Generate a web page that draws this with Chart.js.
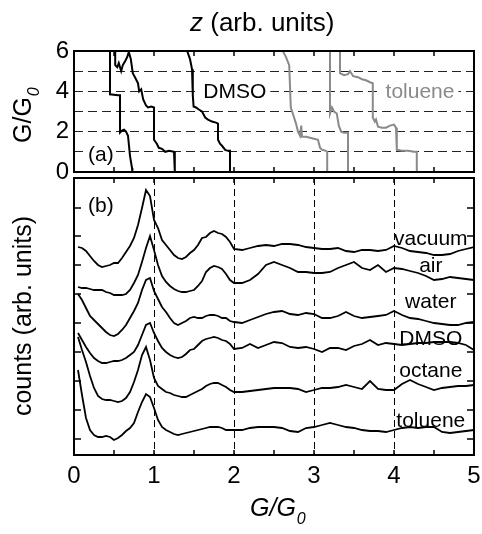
<!DOCTYPE html>
<html>
<head>
<meta charset="utf-8">
<script src="https://cdn.jsdelivr.net/npm/chart.js@4/dist/chart.umd.min.js"></script>
<style>
	body { margin: 0; background: #fff; }
	#wrap { position: relative; width: 482px; height: 534px; }
	canvas { position: absolute; left: 0; }
	#traces { top: 0; }
	#hist { top: 176px; }
</style>
</head>
<body>
<div id="wrap">
	<canvas id="traces" width="482" height="200" style="width:482px;height:200px"></canvas>
	<canvas id="hist" width="482" height="358" style="width:482px;height:358px"></canvas>
</div>
<script>
// panel (a): conductance traces, z in arb. units, G in G0
const traceA_z = [0.9, 0.9, 1.1, 1.15, 1.15, 1.2, 1.25, 1.3, 1.35, 1.4, 1.45, 1.46];
const traceA_G = [6.5, 3.85, 3.8, 3.8, 1.95, 2.05, 2.1, 2.0, 1.8, 0.8, 0.2, 0];
const traceB_z = [1.03, 1.03, 1.08, 1.12, 1.18, 1.22, 1.28, 1.33, 1.37, 1.42, 1.47, 1.55, 1.6, 1.63, 1.68, 1.73, 1.8, 1.85, 1.93, 2.0, 2.0, 2.07, 2.12, 2.2, 2.28, 2.38, 2.5, 2.52];
const traceB_G = [6.5, 5.3, 5.2, 5.4, 5.0, 5.3, 5.5, 5.7, 5.95, 5.6, 4.9, 4.6, 4.4, 4.0, 4.1, 3.6, 3.3, 3.2, 3.25, 3.2, 1.6, 1.4, 1.2, 1.15, 1.0, 1.05, 1.0, 0];
const traceC_z = [2.8, 2.83, 2.9, 2.95, 2.97, 2.99, 3.05, 3.12, 3.2, 3.28, 3.35, 3.45, 3.55, 3.6, 3.6, 3.65, 3.7, 3.78, 3.85, 3.9, 3.9];
const traceC_G = [6.5, 6.0, 5.6, 5.1, 3.8, 3.25, 3.2, 3.1, 3.0, 2.7, 2.6, 2.5, 2.45, 2.4, 1.6, 1.4, 1.3, 1.1, 1.05, 1.05, 0];
const traceD_z = [5.2, 5.22, 5.3, 5.38, 5.42, 5.47, 5.55, 5.6, 5.65, 5.68, 5.7, 5.8, 5.9, 6.0, 6.1, 6.15, 6.2, 6.3, 6.33, 6.33];
const traceD_G = [6.5, 6.0, 5.7, 5.3, 3.2, 2.9, 2.4, 2.0, 1.8, 2.3, 1.75, 1.75, 1.7, 1.65, 1.6, 1.2, 1.1, 1.05, 1.0, 0];
const traceE_z = [6.4, 6.4, 6.45, 6.5, 6.57, 6.62, 6.68, 6.75, 6.85, 6.85];
const traceE_G = [6.5, 2.9, 3.2, 3.0, 2.9, 2.3, 2.0, 1.95, 1.95, 0];
const traceF_z = [6.65, 6.65, 6.75, 6.85, 6.9, 6.98, 7.1, 7.2, 7.3, 7.4, 7.47, 7.47, 7.52, 7.55, 7.6, 7.7, 7.8, 7.9, 8.0, 8.05, 8.07, 8.2, 8.35, 8.5, 8.57, 8.57];
const traceF_G = [6.5, 4.9, 4.8, 4.85, 5.0, 4.75, 4.7, 4.6, 4.55, 4.45, 4.4, 2.7, 2.5, 2.6, 2.25, 2.2, 2.2, 2.3, 2.35, 2.2, 1.1, 1.05, 1.05, 1.0, 1.0, 0];

// panel (b): conductance histograms, offset for each environment
const gValues = [0.05, 0.1, 0.15, 0.2, 0.25, 0.3, 0.35, 0.4, 0.45, 0.5, 0.55, 0.6, 0.65, 0.7, 0.75, 0.8, 0.85, 0.9, 0.95, 1.0,
	1.05, 1.1, 1.15, 1.2, 1.25, 1.3, 1.35, 1.4, 1.45, 1.5, 1.55, 1.6, 1.65, 1.7, 1.75, 1.8, 1.85, 1.9, 1.95, 2.0,
	2.1, 2.2, 2.3, 2.4, 2.5, 2.6, 2.7, 2.8, 2.9, 3.0, 3.1, 3.2, 3.3, 3.4, 3.5, 3.6, 3.7, 3.8, 3.9, 4.0,
	4.1, 4.2, 4.3, 4.4, 4.5, 4.6, 4.7, 4.8, 4.9, 5.0];
const vacuum = [208, 207, 204, 199, 194, 190, 188, 189, 190, 192, 192, 197, 203, 209, 217, 230, 247, 265, 259, 235,
	227, 215, 210, 205, 200, 197, 196, 198, 202, 205, 210, 217, 218, 222, 224, 222, 221, 218, 213, 206,
	205, 207, 209, 210, 209, 211, 211, 210, 208, 207, 206, 206, 207, 204, 203, 205, 205, 204, 205, 209,
	207, 204, 203, 202, 200, 200, 201, 204, 206, 208];
const air = [168, 167, 167, 166, 165, 165, 165, 163, 162, 160, 160, 160, 161, 165, 172, 180, 193, 207, 219, 205,
	190, 179, 173, 169, 166, 164, 163, 163, 164, 165, 169, 174, 183, 187, 189, 188, 186, 181, 175, 172,
	172, 175, 181, 190, 193, 190, 187, 183, 183, 182, 182, 183, 187, 190, 193, 187, 185, 190, 183, 187,
	186, 184, 182, 179, 175, 176, 178, 177, 176, 175];
const water = [161, 155, 147, 139, 135, 131, 127, 123, 120, 119, 121, 125, 130, 137, 144, 152, 165, 175, 177, 164,
	156, 148, 143, 137, 132, 130, 132, 134, 137, 138, 137, 137, 139, 140, 140, 139, 137, 137, 134, 133,
	132, 135, 138, 141, 143, 144, 141, 140, 142, 141, 137, 137, 139, 143, 139, 137, 138, 139, 140, 144,
	140, 137, 136, 134, 132, 131, 130, 130, 132, 133];
const dmso = [122, 115, 108, 102, 97, 94, 92, 92, 93, 94, 94, 95, 97, 100, 103, 110, 120, 130, 132, 122,
	114, 107, 103, 100, 98, 97, 98, 101, 105, 106, 110, 114, 116, 117, 118, 117, 115, 114, 111, 106,
	107, 111, 107, 110, 113, 112, 108, 107, 108, 106, 103, 107, 107, 105, 109, 111, 115, 110, 112, 111,
	110, 111, 112, 112, 113, 113, 113, 112, 110, 105];
const octane = [118, 105, 93, 79, 67, 59, 56, 55, 55, 54, 53, 54, 57, 63, 73, 85, 100, 108, 95, 77,
	69, 66, 63, 62, 60, 59, 58, 58, 60, 62, 64, 66, 69, 71, 72, 72, 70, 68, 65, 63,
	63, 64, 65, 66, 67, 67, 67, 66, 63, 65, 67, 67, 68, 70, 68, 66, 74, 66, 65, 65,
	71, 75, 71, 68, 65, 67, 68, 69, 69, 70];
const toluene = [85, 60, 37, 25, 20, 18, 18, 19, 18, 15, 17, 20, 24, 27, 32, 43, 53, 61, 58, 47,
	35, 28, 25, 23, 21, 20, 21, 22, 23, 24, 25, 26, 27, 28, 28, 28, 27, 25, 25, 25,
	25, 27, 28, 28, 28, 27, 24, 23, 27, 28, 30, 32, 30, 28, 27, 25, 24, 24, 23, 25,
	27, 28, 27, 28, 28, 23, 22, 23, 24, 25];

const envNames = ['vacuum', 'air', 'water', 'DMSO', 'octane', 'toluene'];
const envLabelCounts = [210, 183, 147, 110, 78, 28];
const countTicks = [16, 45, 74, 103, 132, 161, 190, 219, 247];
const gTickLabels = [0, 1, 2, 3, 4, 5];
const gMinorTicks = [0.5, 1, 1.5, 2, 2.5, 3, 3.5, 4, 4.5];
const zTicks = [1, 2, 3, 4, 5, 6, 7, 8, 9];
const gLevels = [0, 1, 2, 3, 4, 5, 6];

document.addEventListener('DOMContentLoaded', function () {

	'use strict';

	const FONT = '"Liberation Sans", Arial, Helvetica, sans-serif';
	Chart.defaults.font.family = FONT;
	Chart.defaults.color = '#000';

	const GRAY = '#8a8a8a';

	function pts(xs, ys) {
		return xs.map(function (v, i) { return { x: v, y: ys[i] }; });
	}

	// "G/G0" with an italic subscript zero
	function drawGG0(ctx, x, y, size, italic) {
		ctx.font = (italic ? 'italic ' : '') + size + 'px ' + FONT;
		ctx.textAlign = 'left';
		ctx.textBaseline = 'alphabetic';
		ctx.fillText('G/G', x, y);
		const w = ctx.measureText('G/G').width;
		ctx.font = 'italic ' + Math.round(size * 0.64) + 'px ' + FONT;
		ctx.fillText('0', x + w + 1, y + size * 0.3);
	}

	function frame(ctx, a) {
		ctx.strokeStyle = '#000';
		ctx.lineWidth = 2;
		ctx.strokeRect(a.left, a.top, a.right - a.left, a.bottom - a.top);
	}

	const labelsA = [
		{ text: 'DMSO', z: 4.02, color: '#000' },
		{ text: 'toluene', z: 8.65, color: GRAY }
	];

	const panelA = {
		id: 'panelA',
		beforeDatasetsDraw(chart) {
			const ctx = chart.ctx, a = chart.chartArea;
			const x = chart.scales.x, y = chart.scales.y;
			ctx.save();
			ctx.font = '21px ' + FONT;
			ctx.fillStyle = '#fff';
			labelsA.forEach(function (l) {
				const w = ctx.measureText(l.text).width;
				const cx = x.getPixelForValue(l.z);
				const cy = y.getPixelForValue(4);
				ctx.fillRect(cx - w / 2 - 4, cy - 10, w + 8, 20);
			});
			ctx.fillRect(a.left + 12, a.bottom - 27, ctx.measureText('(a)').width + 4, 22);
			ctx.restore();
		},
		afterDraw(chart) {
			const ctx = chart.ctx, a = chart.chartArea;
			const x = chart.scales.x, y = chart.scales.y;
			ctx.save();
			frame(ctx, a);
			ctx.lineWidth = 1.5;
			ctx.beginPath();
			zTicks.forEach(function (v) {
				const px = x.getPixelForValue(v);
				ctx.moveTo(px, a.top); ctx.lineTo(px, a.top + 5);
				ctx.moveTo(px, a.bottom); ctx.lineTo(px, a.bottom - 5);
			});
			ctx.stroke();

			ctx.font = '21px ' + FONT;
			ctx.textAlign = 'center';
			ctx.textBaseline = 'alphabetic';
			labelsA.forEach(function (l) {
				ctx.fillStyle = l.color;
				ctx.fillText(l.text, x.getPixelForValue(l.z), y.getPixelForValue(4) + 7);
			});
			ctx.fillStyle = '#000';
			ctx.textAlign = 'left';
			ctx.fillText('(a)', a.left + 14, a.bottom - 11);

			// top title
			ctx.font = 'italic 26px ' + FONT;
			ctx.fillText('z', 190, 31);
			const zw = ctx.measureText('z').width;
			ctx.font = '26px ' + FONT;
			ctx.fillText(' (arb. units)', 190 + zw, 31);

			// y title
			ctx.translate(31, 143);
			ctx.rotate(-Math.PI / 2);
			drawGG0(ctx, 0, 0, 25, false);
			ctx.restore();
		}
	};

	const panelB = {
		id: 'panelB',
		afterDraw(chart) {
			const ctx = chart.ctx, a = chart.chartArea;
			const x = chart.scales.x, y = chart.scales.y;
			ctx.save();
			frame(ctx, a);
			ctx.lineWidth = 1.5;
			ctx.beginPath();
			gMinorTicks.forEach(function (v) {
				const px = x.getPixelForValue(v);
				ctx.moveTo(px, a.top); ctx.lineTo(px, a.top + 5);
				ctx.moveTo(px, a.bottom); ctx.lineTo(px, a.bottom - 5);
			});
			countTicks.forEach(function (v) {
				const py = y.getPixelForValue(v);
				ctx.moveTo(a.left, py); ctx.lineTo(a.left + 7, py);
				ctx.moveTo(a.right, py); ctx.lineTo(a.right - 7, py);
			});
			ctx.stroke();

			ctx.fillStyle = '#000';
			ctx.font = '21px ' + FONT;
			ctx.textAlign = 'center';
			ctx.textBaseline = 'alphabetic';
			envNames.forEach(function (n, i) {
				ctx.fillText(n, x.getPixelForValue(4.46), y.getPixelForValue(envLabelCounts[i]));
			});
			ctx.textAlign = 'left';
			ctx.fillText('(b)', a.left + 14, a.top + 34);

			// x title
			drawGG0(ctx, 250, 340, 25, true);

			// y title
			ctx.translate(31, 140);
			ctx.rotate(-Math.PI / 2);
			ctx.font = '25px ' + FONT;
			ctx.textAlign = 'center';
			ctx.fillText('counts (arb. units)', 0, 0);
			ctx.restore();
		}
	};

	const traceStyle = function (xs, ys, color) {
		return {
			data: pts(xs, ys),
			borderColor: color,
			borderWidth: 2,
			pointRadius: 0,
			tension: 0,
			fill: false
		};
	};

	new Chart(document.getElementById('traces'), {
		type: 'line',
		data: {
			datasets: [
				traceStyle(traceA_z, traceA_G, '#000'),
				traceStyle(traceB_z, traceB_G, '#000'),
				traceStyle(traceC_z, traceC_G, '#000'),
				traceStyle(traceD_z, traceD_G, GRAY),
				traceStyle(traceE_z, traceE_G, GRAY),
				traceStyle(traceF_z, traceF_G, GRAY)
			]
		},
		options: {
			responsive: false,
			animation: false,
			events: [],
			layout: { padding: { left: 0, right: 8, top: 51, bottom: 28 } },
			plugins: { legend: { display: false }, tooltip: { enabled: false } },
			scales: {
				x: { type: 'linear', min: 0, max: 10, display: false },
				y: {
					type: 'linear', min: 0, max: 6,
					afterBuildTicks: function (scale) {
						scale.ticks = gLevels.map(function (v) { return { value: v }; });
					},
					ticks: {
						padding: 5, autoSkip: false,
						font: { size: 24 },
						callback: function (v) { return v % 2 === 0 ? String(v) : ''; }
					},
					grid: {
						drawTicks: false,
						lineWidth: 1,
						color: function (c) {
							return c.tick && c.tick.value > 0 && c.tick.value < 6 ? '#222' : 'rgba(0,0,0,0)';
						}
					},
					border: { display: false, dash: [9, 5] },
					afterFit: function (scale) {
						scale.width = 74;
						scale.paddingTop = 0; scale.paddingBottom = 0;
					}
				}
			}
		},
		plugins: [panelA]
	});

	const histSets = [vacuum, air, water, dmso, octane, toluene].map(function (s) {
		return {
			data: pts(gValues, s),
			borderColor: '#000',
			borderWidth: 1.8,
			pointRadius: 0,
			tension: 0,
			fill: false
		};
	});

	new Chart(document.getElementById('hist'), {
		type: 'line',
		data: { datasets: histSets },
		options: {
			responsive: false,
			animation: false,
			events: [],
			layout: { padding: { left: 74, right: 8, top: 2, bottom: 0 } },
			plugins: { legend: { display: false }, tooltip: { enabled: false } },
			scales: {
				x: {
					type: 'linear', min: 0, max: 5,
					afterBuildTicks: function (scale) {
						scale.ticks = gTickLabels.map(function (v) { return { value: v }; });
					},
					ticks: { padding: 7, font: { size: 24 }, maxRotation: 0, autoSkip: false },
					grid: {
						drawTicks: false,
						lineWidth: 1,
						color: function (c) {
							return c.tick && c.tick.value > 0 && c.tick.value < 5 ? '#000' : 'rgba(0,0,0,0)';
						}
					},
					border: { display: false, dash: [7, 4] },
					afterFit: function (scale) {
						scale.height = 79;
						scale.paddingLeft = 0; scale.paddingRight = 0;
					}
				},
				y: { type: 'linear', min: 0, max: 277, display: false }
			}
		},
		plugins: [panelB]
	});
});
</script>
</body>
</html>
